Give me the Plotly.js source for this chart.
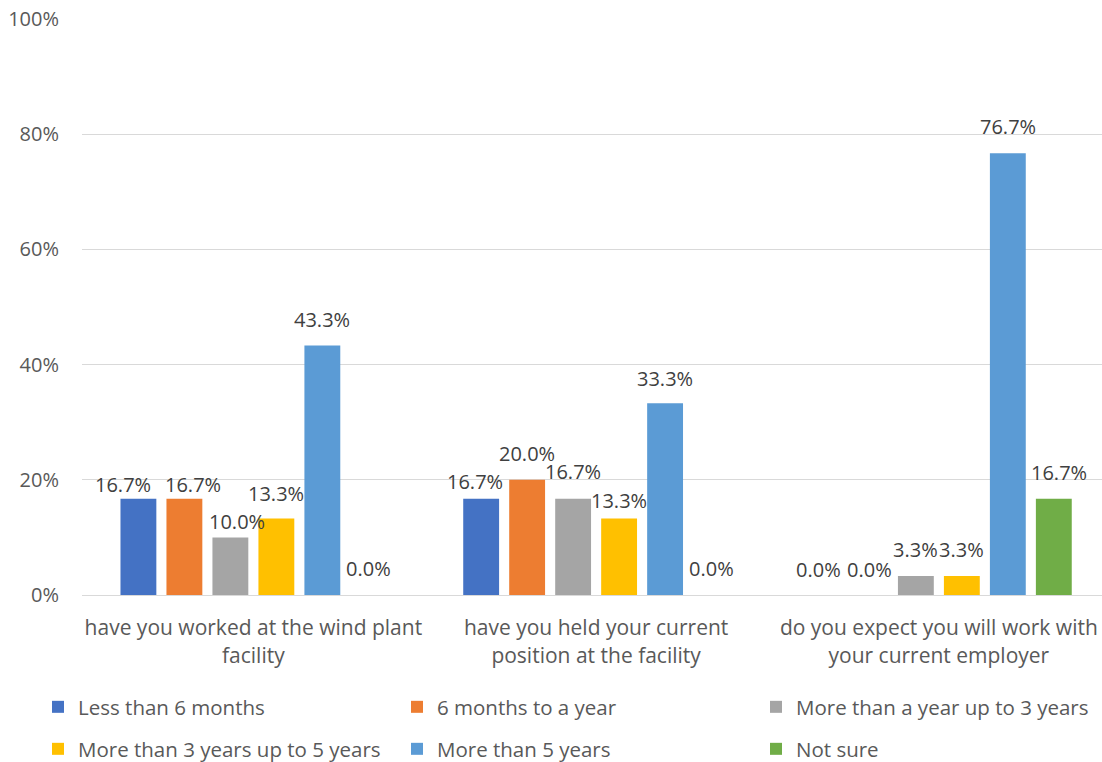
<!DOCTYPE html>
<html>
<head>
<meta charset="utf-8">
<script src="https://cdn.plot.ly/plotly-3.0.1.min.js"></script>
<style>html,body{margin:0;padding:0;background:#fff;}#chart{width:1102px;height:762px;}</style>
</head>
<body>
<div id="chart"></div>
<script>
const categories = [
  "have you worked at the wind plant<br>facility",
  "have you held your current<br>position at the facility",
  "do you expect you will work with<br>your current employer"
];
const seriesNames = [
  "Less than 6 months",
  "6 months to a year",
  "More than a year up to 3 years",
  "More than 3 years up to 5 years",
  "More than 5 years",
  "Not sure"
];
const lessThan6Months = [16.7, 16.7, 0.0];
const sixMonthsToYear = [16.7, 20.0, 0.0];
const yearTo3Years = [10.0, 16.7, 3.3];
const threeTo5Years = [13.3, 13.3, 3.3];
const moreThan5Years = [43.3, 33.3, 76.7];
const notSure = [0.0, 0.0, 16.7];
const yTickVals = [0, 20, 40, 60, 80, 100];

const seriesValues = [lessThan6Months, sixMonthsToYear, yearTo3Years, threeTo5Years, moreThan5Years, notSure];
const colors = ["#4472C4", "#ED7D31", "#A5A5A5", "#FFC000", "#5B9BD5", "#70AD47"];
const FONT = "'Open Sans', sans-serif";

// label nudges (pixels) per series [series][category], like manually moved Excel labels
const labelDx = [[-15, -6, -5], [9, 0, 0], [7, 0, 0], [0, 0, 0], [0, 0, 0], [0, 0, 5]];
const labelDy = [[14, 17, 26], [14, 26, 26], [16, 27, 26], [25, 18, 26], [26, 25, 27], [27, 27, 26]];

const W = 1102, H = 762;
const margin = {l: 82, r: 0, t: 19, b: 167};
const xRange = [-0.5, 2.476];
const bargap = 0.195, bargroupgap = 0.22;
const plotW = W - margin.l - margin.r;
const catPx = plotW / (xRange[1] - xRange[0]);
const slotPx = catPx * (1 - bargap) / seriesNames.length;

// legend grid: 3 columns x 2 rows (pixel positions in the container)
const legendColX = [38, 397, 756];
const legendRowY = [707, 749];

const legendKey = i => (i === 0 ? "legend" : "legend" + (i + 1));

const traces = seriesNames.map((name, i) => ({
  type: "bar",
  name: name,
  x: categories,
  y: seriesValues[i],
  marker: {color: colors[i]},
  hoverinfo: "skip",
  legend: legendKey(i)
}));

const annotations = [];
seriesNames.forEach((name, i) => {
  categories.forEach((c, j) => {
    annotations.push({
      x: j, xref: "x",
      y: seriesValues[i][j], yref: "y",
      text: seriesValues[i][j].toFixed(1) + "%",
      showarrow: false,
      xanchor: "center", yanchor: "middle",
      xshift: (i - (seriesNames.length - 1) / 2) * slotPx + labelDx[i][j],
      yshift: labelDy[i][j],
      font: {family: FONT, size: 20, color: "#404040"}
    });
  });
});

const layout = {
  width: W,
  height: H,
  margin: margin,
  paper_bgcolor: "#fff",
  plot_bgcolor: "#fff",
  barmode: "group",
  bargap: bargap,
  bargroupgap: bargroupgap,
  font: {family: FONT, size: 19, color: "#595959"},
  showlegend: true,
  annotations: annotations,
  xaxis: {
    type: "category",
    range: xRange,
    showgrid: false,
    showline: true,
    linecolor: "#D9D9D9",
    linewidth: 1,
    ticks: "",
    ticklabelstandoff: 14,
    tickfont: {family: FONT, size: 21, color: "#595959"},
    automargin: false
  },
  yaxis: {
    range: [0, 100],
    tickvals: yTickVals,
    ticktext: yTickVals.map(v => v + "%"),
    showgrid: true,
    gridcolor: "#D9D9D9",
    gridwidth: 1,
    zeroline: false,
    showline: false,
    ticks: "",
    ticklabelstandoff: 22,
    tickfont: {family: FONT, size: 20, color: "#595959"},
    automargin: false
  }
};

seriesNames.forEach((name, i) => {
  layout[legendKey(i)] = {
    orientation: "h",
    xref: "container", yref: "container",
    x: legendColX[i % 3] / W, xanchor: "left",
    y: 1 - legendRowY[Math.floor(i / 3)] / H, yanchor: "middle",
    font: {family: FONT, size: 20.5, color: "#595959"},
    itemwidth: 30,
    bgcolor: "rgba(0,0,0,0)"
  };
});

Plotly.newPlot("chart", traces, layout, {displayModeBar: false, staticPlot: true});
</script>
</body>
</html>
